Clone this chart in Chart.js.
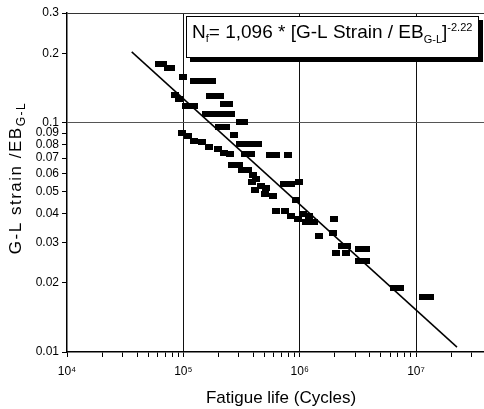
<!DOCTYPE html>
<html>
<head>
<meta charset="utf-8">
<script src="https://cdn.jsdelivr.net/npm/chart.js@4.4.1/dist/chart.umd.min.js"></script>
<style>
    body { margin: 0; background: #fff; }
    #chart { display: block; }
</style>
</head>
<body>
<canvas id="chart" width="484" height="409"></canvas>
<script>
// 疲劳寿命 (cycles) 与 G-L strain / EB 的试验点
const lifeCycles = [
    61300, 66400, 73300, 77700, 98600, 122700, 138100, 155600, 175200, 84200,
    91100, 104700, 122700, 168400, 185900, 205300, 222300, 245400, 155600, 175200,
    197300, 217800, 255400, 305100, 330400, 201300, 231200, 271000, 305100, 343700,
    387000, 436000, 337000, 379500, 553000, 622800, 790000,
    96700, 108900, 122700, 143700, 165100, 197300, 222300, 250300, 260400, 299200,
    317500, 357600, 394800, 419000, 387000, 410800, 462600, 510800, 500800, 586800,
    729800, 838000, 982400, 925600, 622800, 744400, 838000, 963000, 1064000, 1198000,
    1323000, 1129000, 1461000, 1966000, 1928000, 2304000, 2544000, 2045000, 2494000, 3226000,
    3706000, 3226000, 3706000, 6453000, 7270000, 11470000, 13170000
];
const strainRatio = [
    0.180, 0.180, 0.172, 0.172, 0.158, 0.151, 0.151, 0.151, 0.151, 0.132,
    0.126, 0.118, 0.118, 0.130, 0.130, 0.130, 0.120, 0.120, 0.109, 0.109,
    0.109, 0.109, 0.109, 0.100, 0.100, 0.096, 0.096, 0.088, 0.081, 0.081,
    0.081, 0.081, 0.073, 0.073, 0.072, 0.072, 0.072,
    0.090, 0.087, 0.083, 0.082, 0.078, 0.077, 0.074, 0.073, 0.065, 0.065,
    0.062, 0.062, 0.059, 0.057, 0.055, 0.051, 0.053, 0.052, 0.049, 0.048,
    0.054, 0.054, 0.055, 0.046, 0.041, 0.041, 0.039, 0.038, 0.040, 0.039,
    0.037, 0.037, 0.032, 0.038, 0.033, 0.029, 0.029, 0.027, 0.027, 0.028,
    0.028, 0.025, 0.025, 0.019, 0.019, 0.0174, 0.0174
];

// 拟合线 Nf = 1,096 * [G-L Strain / EB]^-2.22
const fitCycles = [36000, 22500000];
const fitStrain = [0.203, 0.0105];

// 刻度
const xTickValues = [
    1e4, 2e4, 3e4, 4e4, 5e4, 6e4, 7e4, 8e4, 9e4,
    1e5, 2e5, 3e5, 4e5, 5e5, 6e5, 7e5, 8e5, 9e5,
    1e6, 2e6, 3e6, 4e6, 5e6, 6e6, 7e6, 8e6, 9e6,
    1e7, 2e7, 3e7
];
const xTickLabels = { 1e4: '10⁴', 1e5: '10⁵', 1e6: '10⁶', 1e7: '10⁷' };
const xGridValues = [1e5, 1e6, 1e7];
const yTickValues = [0.01, 0.02, 0.03, 0.04, 0.05, 0.06, 0.07, 0.08, 0.09, 0.1, 0.2, 0.3];

const FONT = '"Liberation Sans", Arial, sans-serif';

// 方块标记
const marker = document.createElement('canvas');
marker.width = 8;
marker.height = 6;
const mctx = marker.getContext('2d');
mctx.fillStyle = '#000';
mctx.fillRect(0, 0, 8, 6);

const points = lifeCycles.map((n, i) => ({ x: n, y: strainRatio[i] }));
const fitPoints = fitCycles.map((n, i) => ({ x: n, y: fitStrain[i] }));

// 画公式框和轴标题
const extrasPlugin = {
    id: 'extras',
    afterDraw(chart) {
        const ctx = chart.ctx;
        ctx.save();

        // 公式框
        ctx.fillStyle = '#000';
        ctx.fillRect(190, 20, 293, 42);
        ctx.fillStyle = '#fff';
        ctx.fillRect(186, 16, 293, 42);
        ctx.strokeStyle = '#000';
        ctx.lineWidth = 1;
        ctx.strokeRect(186.5, 16.5, 292, 41);

        const parts = [
            { t: 'N', size: 19, dy: 0 },
            { t: 'f', size: 11, dy: 4 },
            { t: '= 1,096 * [G-L Strain / EB', size: 19, dy: 0 },
            { t: 'G-L', size: 11, dy: 5 },
            { t: ']', size: 19, dy: 0 },
            { t: '-2.22', size: 11, dy: -7 }
        ];
        let x = 192;
        const base = 38;
        ctx.fillStyle = '#000';
        ctx.textBaseline = 'alphabetic';
        ctx.textAlign = 'left';
        parts.forEach(p => {
            ctx.font = p.size + 'px ' + FONT;
            ctx.fillText(p.t, x, base + p.dy);
            x += ctx.measureText(p.t).width;
        });

        // x 轴标题
        ctx.font = '17px ' + FONT;
        ctx.textAlign = 'center';
        ctx.fillText('Fatigue life (Cycles)', 281, 403);

        // y 轴标题
        ctx.translate(21, 178);
        ctx.rotate(-Math.PI / 2);
        ctx.textAlign = 'left';
        ctx.letterSpacing = '1.5px';
        ctx.font = '17px ' + FONT;
        const main = 'G-L strain /EB';
        const w1 = ctx.measureText(main).width;
        ctx.font = '12px ' + FONT;
        const w2 = ctx.measureText('G-L').width;
        const start = -(w1 + w2) / 2;
        ctx.font = '17px ' + FONT;
        ctx.fillText(main, start, 0);
        ctx.font = '12px ' + FONT;
        ctx.fillText('G-L', start + w1, 4);

        ctx.restore();
    }
};

new Chart(document.getElementById('chart'), {
    type: 'scatter',
    data: {
        datasets: [
            {
                label: 'Test data',
                data: points,
                pointStyle: marker,
                pointRadius: 4,
                backgroundColor: '#000',
                borderColor: '#000'
            },
            {
                type: 'line',
                label: 'Fit',
                data: fitPoints,
                borderColor: '#000',
                borderWidth: 1.5,
                pointRadius: 0,
                fill: false,
                tension: 0
            }
        ]
    },
    options: {
        responsive: false,
        animation: false,
        devicePixelRatio: 1,
        layout: { autoPadding: false, padding: { top: 13, right: 0, left: 0, bottom: 0 } },
        plugins: {
            legend: { display: false },
            tooltip: { enabled: false }
        },
        scales: {
            x: {
                type: 'logarithmic',
                min: 1e4,
                max: 3.84e7,
                afterFit(scale) {
                    scale.height = 57;
                    scale.paddingRight = 0;
                    scale.paddingLeft = 0;
                },
                afterBuildTicks(scale) {
                    scale.ticks = xTickValues.map(v => ({ value: v }));
                },
                ticks: {
                    autoSkip: false,
                    maxRotation: 0,
                    padding: 7,
                    color: '#000',
                    font: { family: FONT, size: 12 },
                    callback: (v) => xTickLabels[v] || ''
                },
                grid: {
                    color: (c) => (c.tick && xGridValues.includes(c.tick.value)) ? '#111' : 'rgba(0,0,0,0)',
                    lineWidth: 1,
                    tickLength: 5,
                    tickColor: '#000'
                },
                border: { color: '#000', width: 1.5 }
            },
            y: {
                type: 'logarithmic',
                min: 0.01,
                max: 0.3,
                afterFit(scale) { scale.width = 67; },
                afterBuildTicks(scale) {
                    scale.ticks = yTickValues.map(v => ({ value: v }));
                },
                ticks: {
                    autoSkip: false,
                    padding: 3,
                    color: '#000',
                    font: { family: FONT, size: 12 },
                    callback: (v) => String(v)
                },
                grid: {
                    color: (c) => {
                        if (!c.tick) return 'rgba(0,0,0,0)';
                        if (c.tick.value === 0.1) return '#555';
                        if (c.tick.value === 0.3) return '#333';
                        return 'rgba(0,0,0,0)';
                    },
                    lineWidth: 1,
                    tickLength: 5,
                    tickColor: '#000'
                },
                border: { color: '#000', width: 1.5 }
            }
        }
    },
    plugins: [extrasPlugin]
});
</script>
</body>
</html>
